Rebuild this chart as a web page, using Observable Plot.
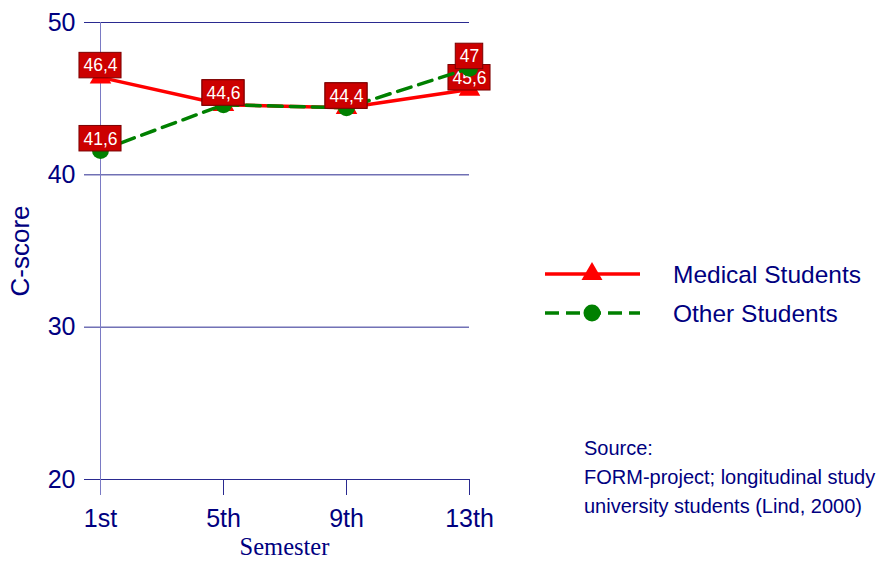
<!DOCTYPE html>
<html>
<head>
<meta charset="utf-8">
<script src="https://cdn.jsdelivr.net/npm/d3@7"></script>
<script src="https://cdn.jsdelivr.net/npm/@observablehq/plot@0.6"></script>
<style>
  html, body { margin: 0; padding: 0; background: #fff; overflow: hidden; }
  #wrap { position: relative; width: 878px; height: 561px; overflow: hidden; }
  #overlay { position: absolute; left: 0; top: 0; }
</style>
</head>
<body>
<div id="wrap"></div>
<script>
const semesters = ["1st", "5th", "9th", "13th"];
const medical = [46.4, 44.6, 44.4, 45.6];
const other = [41.6, 44.6, 44.4, 47.0];
const seriesNames = ["Medical Students", "Other Students"];
const yTicks = [20, 30, 40, 50];
const sourceLines = ["Source:", "FORM-project; longitudinal study", "university students (Lind, 2000)"];

const NAVY = "#000080";
const FONT = "'Liberation Sans', Arial, sans-serif";
const fmt = v => String(v).replace(".", ",");

const medData = semesters.map((s, i) => ({semester: s, value: medical[i], label: fmt(medical[i])}));
const othData = semesters.map((s, i) => ({semester: s, value: other[i], label: fmt(other[i])}));

function boxedLabels(data) {
  return Plot.text(data, {
    x: "semester", y: "value", text: "label",
    fill: "white", fontSize: 17.5, dy: -11.5, lineAnchor: "middle",
    render(index, scales, values, dims, ctx, next) {
      const g = next(index, scales, values, dims, ctx);
      const c = document.createElement("canvas").getContext("2d");
      c.font = "17.5px 'Liberation Sans'";
      const wrap = d3.create("svg:g");
      for (const i of index) {
        const w = c.measureText(data[i].label).width + 8;
        wrap.append("rect")
          .attr("x", values.x[i] - w / 2).attr("y", values.y[i] - 24.5)
          .attr("width", w).attr("height", 25.5)
          .attr("fill", "#cc0000").attr("stroke", "#7a0000").attr("stroke-width", 1);
      }
      wrap.append(() => g);
      return wrap.node();
    }
  });
}

const chart = Plot.plot({
  width: 878,
  height: 561,
  marginLeft: 99,
  marginRight: 409,
  marginTop: 22,
  marginBottom: 82,
  style: {fontFamily: FONT, background: "white", color: NAVY},
  x: {type: "point", domain: semesters, padding: 0, label: null},
  y: {domain: [20, 50], ticks: yTicks, label: null},
  marks: [
    Plot.gridY(yTicks, {stroke: "#2a2a90", strokeOpacity: 1, strokeWidth: 1}),
    Plot.axisY(yTicks, {tickSize: 15, tickPadding: 9, fontSize: 25, stroke: "#2a2a90", fill: NAVY, label: null}),
    Plot.axisX(semesters.slice(1), {tickSize: 16, tickPadding: 11, fontSize: 25, stroke: "#2a2a90", fill: NAVY, label: null, text: null}),
    Plot.axisX(semesters, {tickSize: 0, tickPadding: 30, fontSize: 25, fill: NAVY, label: null}),
    Plot.ruleX([semesters[0]], {stroke: "#7a7ac4", strokeWidth: 1, insetBottom: -16}),
    Plot.text(["C-score"], {frameAnchor: "left", textAnchor: "middle", rotate: -90, dx: -79, fontSize: 26, fill: NAVY}),
    Plot.text(["Semester"], {frameAnchor: "bottom", textAnchor: "middle", dy: 75, fontSize: 24.5, fill: NAVY, fontFamily: "'Liberation Serif', 'Times New Roman', serif"}),
    // Medical students
    Plot.line(medData, {x: "semester", y: "value", stroke: "#ff0000", strokeWidth: 3.5}),
    Plot.dot(medData, {x: "semester", y: "value", symbol: "triangle", r: 8, fill: "#ff0000", stroke: "none"}),
    boxedLabels(medData),
    // Other students
    Plot.line(othData, {x: "semester", y: "value", stroke: "#008000", strokeWidth: 3.5, strokeDasharray: "14,8"}),
    Plot.dot(othData, {x: "semester", y: "value", symbol: "circle", r: 8.5, fill: "#008000", stroke: "none"}),
    boxedLabels(othData)
  ]
});

document.getElementById("wrap").appendChild(chart);

// Legend and source note
const ov = d3.select("#wrap").append("svg").attr("id", "overlay")
  .attr("width", 878).attr("height", 561)
  .style("font-family", FONT);

const legendRows = [
  {name: seriesNames[0], color: "#ff0000", dash: null, sym: d3.symbolTriangle, size: 190, y: 274},
  {name: seriesNames[1], color: "#008000", dash: "14,7", sym: d3.symbolCircle, size: 227, y: 313}
];
for (const r of legendRows) {
  ov.append("line").attr("x1", 545).attr("x2", 640).attr("y1", r.y).attr("y2", r.y)
    .attr("stroke", r.color).attr("stroke-width", 3.5).attr("stroke-dasharray", r.dash);
  ov.append("path").attr("d", d3.symbol(r.sym, r.size)()).attr("transform", `translate(592,${r.y})`)
    .attr("fill", r.color);
  ov.append("text").attr("x", 673).attr("y", r.y).attr("dy", "0.35em")
    .attr("font-size", 24.5).attr("fill", NAVY).text(r.name);
}
sourceLines.forEach((t, i) => {
  ov.append("text").attr("x", 584).attr("y", 455 + i * 29)
    .attr("font-size", 20).attr("fill", NAVY).text(t);
});
</script>
</body>
</html>
